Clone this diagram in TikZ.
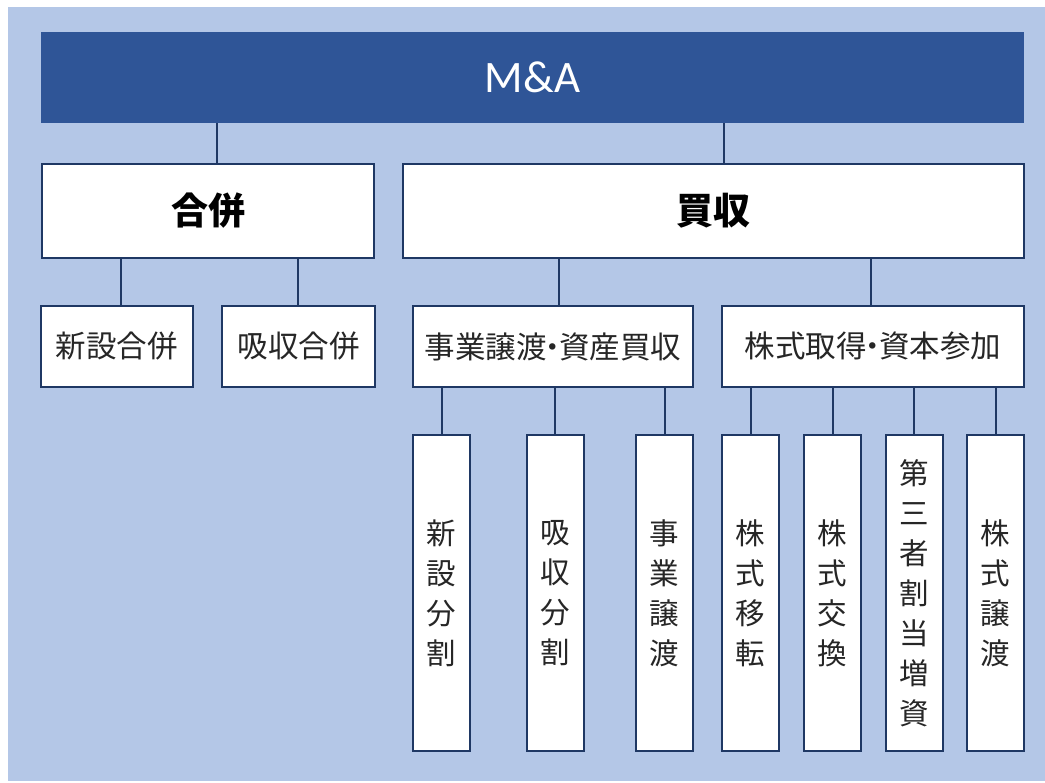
\documentclass[tikz,border=0pt]{standalone}
\usepackage{fontspec}
\setmainfont{Noto Sans CJK JP}
\newfontfamily\latinfont{Carlito}
\definecolor{bgblue}{HTML}{B4C7E7}
\definecolor{barblue}{HTML}{2F5597}
\definecolor{navy}{HTML}{1F3864}
\definecolor{txt}{HTML}{262626}
\newcommand{\nd}{\hbox to 0.4em{\hss ・\hss}}
\tikzset{
  box/.style={draw=navy, line width=2pt, fill=white, inner sep=0pt, text=txt},
  midbox/.style={box, minimum height=81pt, font=\fontsize{30.5}{34}\selectfont},
  bigbox/.style={box, minimum height=94pt, font=\fontsize{37}{40}\selectfont\bfseries, text=black},
  vbox/.style={box, minimum width=57pt, minimum height=316pt, align=center, font=\fontsize{29.5}{40}\selectfont},
  link/.style={draw=navy, line width=2pt}
}
\begin{document}
\begin{tikzpicture}[x=1pt,y=-1pt]
\useasboundingbox (0,0) rectangle (1045,783);
\fill[white] (0,0) rectangle (1045,783);
\fill[bgblue] (8,7) rectangle (1045,781);

\node[fill=barblue, minimum width=983pt, minimum height=91pt, inner sep=0pt,
      text=white, font=\latinfont\fontsize{45}{48}\selectfont] (ma) at (532.5,77.5) {M\&A};

\node[bigbox, minimum width=332pt] (gappei) at (208,211) {合併};
\node[bigbox, minimum width=621pt] (baishu) at (713.5,211) {買収};

\node[midbox, minimum width=152pt] (shinsetsu) at (117,346.5) {新設合併};
\node[midbox, minimum width=153pt] (kyushu) at (298.5,346.5) {吸収合併};
\node[midbox, minimum width=280pt] (jigyo) at (553,346.5) {事業譲渡\nd 資産買収};
\node[midbox, minimum width=302pt] (kabu) at (873,346.5) {株式取得\nd 資本参加};

\node[vbox] (b1) at (441.5,593) {新\\設\\分\\割};
\node[vbox] (b2) at (555,593) {吸\\収\\分\\割};
\node[vbox] (b3) at (664.5,593) {事\\業\\譲\\渡};
\node[vbox] (b4) at (750.5,593) {株\\式\\移\\転};
\node[vbox] (b5) at (832.5,593) {株\\式\\交\\換};
\node[vbox] (b6) at (914,593) {第\\三\\者\\割\\当\\増\\資};
\node[vbox] (b7) at (995.5,593) {株\\式\\譲\\渡};

\coordinate (x1) at (217,0);
\coordinate (x2) at (724,0);
\coordinate (x3) at (121,0);
\coordinate (x4) at (298,0);
\coordinate (x5) at (559,0);
\coordinate (x6) at (871,0);

\draw[link] (ma.south -| x1) -- (gappei.north -| x1);
\draw[link] (ma.south -| x2) -- (baishu.north -| x2);
\draw[link] (gappei.south -| x3) -- (shinsetsu.north -| x3);
\draw[link] (gappei.south -| x4) -- (kyushu.north -| x4);
\draw[link] (baishu.south -| x5) -- (jigyo.north -| x5);
\draw[link] (baishu.south -| x6) -- (kabu.north -| x6);
\foreach \b in {b1,b2,b3} \draw[link] (jigyo.south -| \b.north) -- (\b.north);
\foreach \b in {b4,b5,b6,b7} \draw[link] (kabu.south -| \b.north) -- (\b.north);
\end{tikzpicture}
\end{document}
